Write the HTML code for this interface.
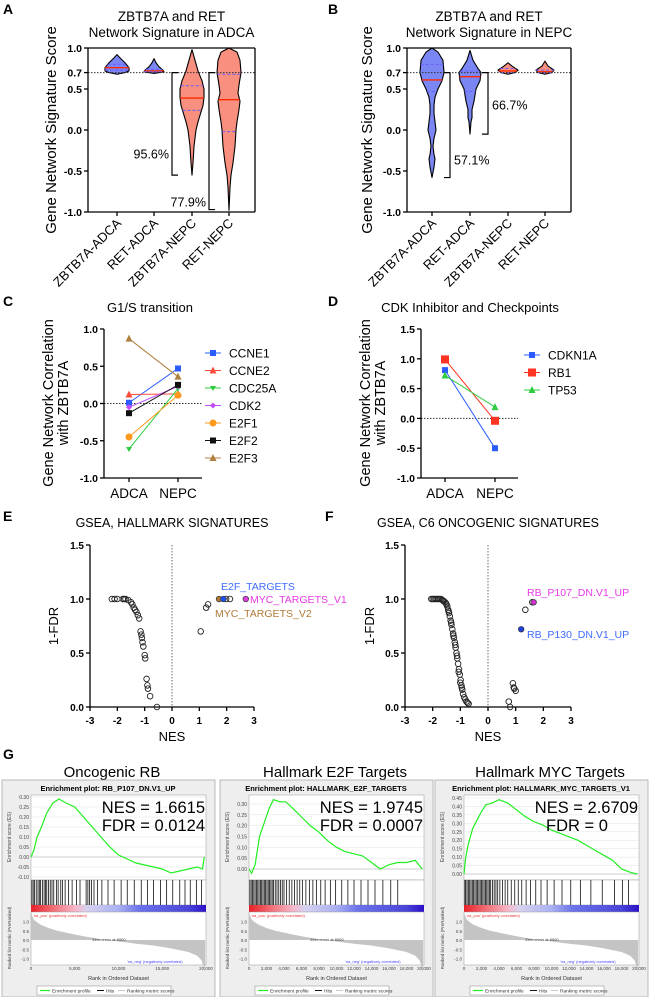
<!DOCTYPE html>
<html><head><meta charset="utf-8"><style>
html,body{margin:0;padding:0;background:#fff;}
svg{display:block;font-family:"Liberation Sans",Arial,sans-serif;}
</style></head><body>
<svg id="fig" width="649" height="997" viewBox="0 0 649 997" xmlns="http://www.w3.org/2000/svg"></svg>
<script>
// ---------- Panel A/B violin data: [value, half-width px] ----------
const violinCatsA = ["ZBTB7A-ADCA","RET-ADCA","ZBTB7A-NEPC","RET-NEPC"];
const violinA1 = [[0.92,0],[0.88,3],[0.82,8],[0.76,12],[0.72,12],[0.70,8],[0.68,0]];
const violinA2 = [[0.87,0],[0.82,2],[0.77,5],[0.73,9],[0.71,10],[0.69,0]];
const violinA3 = [[0.98,0],[0.85,3],[0.72,6],[0.6,10],[0.5,12],[0.4,12],[0.3,11],[0.22,9],[0.1,6],[0.0,4],[-0.1,3],[-0.2,2],[-0.4,1],[-0.55,0]];
const violinA4 = [[1.0,0],[0.95,8],[0.85,11],[0.7,12],[0.55,10],[0.45,9],[0.35,11],[0.25,10],[0.1,8],[0.0,7],[-0.2,6],[-0.4,4],[-0.55,2],[-0.7,1],[-0.98,0]];
const violinStatsA = [[0.76,0.80,0.73],[0.72,0.74,0.71],[0.39,0.54,0.24],[0.37,0.68,-0.02]];
const violinB1 = [[1.0,0],[0.95,6],[0.85,11],[0.7,12],[0.6,10],[0.5,6],[0.4,3],[0.3,2],[0.2,2],[0.1,3],[0.0,4],[-0.1,2],[-0.2,1],[-0.3,2],[-0.35,3],[-0.45,2],[-0.58,0]];
const violinB2 = [[0.97,0],[0.85,3],[0.75,8],[0.7,11],[0.6,10],[0.5,6],[0.35,4],[0.25,2],[0.15,2],[0.1,1],[-0.05,0]];
const violinB3 = [[0.82,0],[0.78,4],[0.73,10],[0.70,7],[0.68,0]];
const violinB4 = [[0.84,0],[0.78,3],[0.73,9],[0.70,7],[0.68,0]];
const violinStatsB = [[0.61,0.80,0.47],[0.65,0.72,0.47],[0.72,0.75,0.70],[0.71,0.73,0.70]];
const violinTicks = [1.0,0.7,0.5,0.0,-0.5,-1.0];
const bracketsA = [[2,0.7,-0.55,"95.6%"],[3,0.7,-0.97,"77.9%"]];
const bracketsB = [[0,0.7,-0.58,"57.1%"],[1,0.7,-0.05,"66.7%"]];

// ---------- Panel C/D ----------
const groupsCD = ["ADCA","NEPC"];
const seriesC = ["CCNE1","CCNE2","CDC25A","CDK2","E2F1","E2F2","E2F3"];
const valuesC = [[0.01,0.47],[0.12,0.13],[-0.61,0.20],[-0.05,0.23],[-0.45,0.11],[-0.13,0.25],[0.87,0.36]];
const ticksC = [1.0,0.5,0.0,-0.5,-1.0];
const seriesD = ["CDKN1A","RB1","TP53"];
const valuesD = [[0.81,-0.50],[0.99,-0.04],[0.72,0.19]];
const ticksD = [1.5,1.0,0.5,0.0,-0.5,-1.0];

// ---------- Panel E/F (NES, 1-FDR) ----------
const nesE = [-2.2,-2.1,-2.0,-1.8,-1.75,-1.7,-1.6,-1.5,-1.45,-1.4,-1.35,-1.3,-1.25,-1.2,-1.15,-1.12,-1.1,-1.08,-1.05,-1.0,-0.98,-0.93,-0.9,-0.88,-0.8,-0.55,1.05,1.25,1.32,1.98,2.12];
const fdrE = [1,1,1,1,1,1,0.99,0.97,0.95,0.92,0.9,0.88,0.85,0.82,0.7,0.67,0.64,0.6,0.56,0.48,0.45,0.26,0.2,0.17,0.1,0,0.7,0.92,0.95,1,1];
const hiNesE = [1.72,1.88,2.7];
const hiFdrE = [1,1,1];
const nesF = [-2.05,-2.0,-1.95,-1.9,-1.85,-1.8,-1.75,-1.7,-1.65,-1.6,-1.55,-1.5,-1.47,-1.44,-1.41,-1.38,-1.35,-1.32,-1.29,-1.26,-1.23,-1.2,-1.17,-1.14,-1.11,-1.08,-1.05,-1.02,-0.99,-0.96,-0.93,-0.9,-0.86,-0.82,-0.78,-0.74,-0.7,-1.62,-1.52,-1.42,-1.33,-1.25,-1.18,-1.12,-1.06,-1.0,-0.95,0.75,0.8,0.9,0.93,0.95,1.0,1.35,1.6];
const fdrF = [1,1,1,1,1,1,1,1,0.99,0.98,0.97,0.95,0.93,0.9,0.87,0.84,0.8,0.76,0.72,0.68,0.64,0.6,0.55,0.5,0.45,0.4,0.35,0.3,0.25,0.2,0.16,0.12,0.09,0.07,0.05,0.04,0.03,0.985,0.96,0.885,0.78,0.66,0.575,0.475,0.325,0.225,0.18,0.05,0,0.22,0.18,0.17,0.15,0.9,0.97];
const hiNesF = [1.65,1.2];
const hiFdrF = [0.97,0.72];
const ticksNES = [-3,-2,-1,0,1,2,3];
const ticksFDR = [1.5,1.0,0.5,0.0];

// ---------- Panel G (GSEA) ----------
const gseaTitles = ["Oncogenic RB","Hallmark E2F Targets","Hallmark MYC Targets"];
const gseaPlotNames = ["RB_P107_DN.V1_UP","HALLMARK_E2F_TARGETS","HALLMARK_MYC_TARGETS_V1"];
const gseaNES = ["1.6615","1.9745","2.6709"];
const gseaFDR = ["0.0124","0.0007","0"];
const esRank1 = [0,300,700,1200,1800,2500,3200,4000,5000,6000,7000,8000,9000,10000,11000,12000,13000,14000,15000,16000,17000,18000,19000,19600,19800];
const esVal1 = [0,0.03,0.1,0.15,0.22,0.27,0.29,0.27,0.25,0.2,0.15,0.1,0.05,0.01,-0.01,-0.03,-0.04,-0.05,-0.06,-0.08,-0.07,-0.06,-0.05,-0.06,0.0];
const esRank2 = [0,300,700,1200,1800,2300,2800,3500,4200,5000,6000,7000,8000,9000,10000,11000,12000,13000,14000,15000,16000,17000,18000,19000,19800];
const esVal2 = [0,-0.02,0.02,0.15,0.22,0.28,0.32,0.31,0.31,0.28,0.24,0.2,0.17,0.13,0.1,0.08,0.07,0.06,0.03,0.0,0.02,0.03,0.03,0.04,0.0];
const esRank3 = [0,200,500,1000,1500,2000,2500,3200,4000,5000,6000,7000,8000,9000,10000,11000,12000,13000,14000,15000,16000,17000,18000,19000,19800];
const esVal3 = [0,0.1,0.18,0.27,0.32,0.37,0.41,0.42,0.44,0.42,0.38,0.34,0.31,0.29,0.26,0.24,0.22,0.2,0.17,0.14,0.11,0.08,0.03,0.01,0];
const hits1 = [100,250,400,600,800,950,1100,1300,1500,1650,1800,2000,2200,2400,2600,2900,3100,3400,3600,3900,4300,4700,5200,5600,6300,6500,6700,6900,7200,7600,8100,8800,9500,10300,11000,11800,12600,13300,14000,14800,15500,16200,17000,17600,18200,18900,19500];
const hits2 = [100,250,400,550,700,850,1000,1150,1300,1450,1600,1750,1900,2050,2200,2350,2500,2650,2800,3000,3200,3400,3600,3800,4000,4300,4600,4900,5200,5500,5800,6100,6500,6900,7300,7700,8200,8700,9300,9900,10600,11300,12000,12800,13600,14400,15300,16200,17000];
const hits3 = [100,200,350,500,650,800,950,1100,1250,1400,1550,1700,1850,2000,2150,2300,2450,2600,2750,2900,3050,3250,3450,3650,3850,4100,4400,4700,5000,5400,5800,6200,6600,7100,7600,8200,8800,9500,10300,11200,12200,13300,14500,15800,17200,18100,18800];
const metricRank = [0,300,1000,2000,3000,4000,5000,6000,7000,8000,8900,10000,12000,14000,16000,18000,19000,19500,19900];
const metricVal = [1.5,1.1,0.85,0.65,0.5,0.4,0.3,0.2,0.12,0.05,0,-0.08,-0.2,-0.3,-0.45,-0.65,-0.85,-1.1,-1.7];

// ---------- helpers ----------
const NS="http://www.w3.org/2000/svg";
const svg=document.getElementById('fig');
function mk(tag,attrs,parent){const e=document.createElementNS(NS,tag);for(const k in attrs)e.setAttribute(k,attrs[k]);(parent||svg).appendChild(e);return e;}
function txt(s,x,y,attrs,parent){const e=mk('text',Object.assign({x:x,y:y},attrs||{}),parent);e.textContent=s;return e;}
function lin(d0,d1,r0,r1){return v=>r0+(v-d0)*(r1-r0)/(d1-d0);}
function line(x1,y1,x2,y2,st,parent){return mk('line',Object.assign({x1:x1,y1:y1,x2:x2,y2:y2,stroke:'#000','stroke-width':1.3},st||{}),parent);}
function label(s,x,y){const t=txt(s,x,y,{'font-size':14,'font-weight':'bold'});}

// ---------- Violin panels ----------
function violinPanel(id,ax,cx,title2,violins,stats,brackets,fills){
  const g=mk('g',{});
  
  
  const y=lin(1,-1,48,212);
  const ttl=txt("ZBTB7A and RET",(ax.l+ax.r)/2,21,{'font-size':13.5,'text-anchor':'middle'},g);
  
  txt(title2,(ax.l+ax.r)/2,37,{'font-size':13.5,'text-anchor':'middle'},g);
  const yl=txt("Gene Network Signature Score",0,0,{'font-size':15,'text-anchor':'middle',transform:`translate(${ax.yl},130) rotate(-90)`},g);
  
  violins.forEach((pts,i)=>{
    const c=cx[i];
    let d='';
    pts.forEach((p,j)=>{d+=(j?'L':'M')+(c+p[1])+','+y(p[0]);});
    for(let j=pts.length-1;j>=0;j--){d+='L'+(c-pts[j][1])+','+y(pts[j][0]);}
    const p=mk('path',{d:d+'Z',fill:fills[i],stroke:'#000','stroke-width':1.1,'stroke-linejoin':'round'},g);
    
    
    const hw=v=>{for(let j=0;j<pts.length-1;j++){const a=pts[j],b=pts[j+1];if(v<=a[0]&&v>=b[0]){return a[1]+(b[1]-a[1])*(a[0]-v)/(a[0]-b[0]);}}return 0;};
    const s=stats[i];
    line(c-hw(s[0]),y(s[0]),c+hw(s[0]),y(s[0]),{stroke:'#ff2a00','stroke-width':1.4},g);
    [s[1],s[2]].forEach(q=>line(c-hw(q),y(q),c+hw(q),y(q),{stroke:'#6a5cff','stroke-width':1,'stroke-dasharray':'3,2'},g));
  });
  line(ax.l,y(0.7),ax.r,y(0.7),{'stroke-width':1,'stroke-dasharray':'1.5,1.5',stroke:'#333'},g);
  line(ax.l,48,ax.l,212,{},g);line(ax.l,212,ax.r,212,{},g);line(ax.r,48,ax.r,212,{},g);line(ax.l,48,ax.r,48,{},g);
  violinTicks.forEach(t=>{line(ax.l-4,y(t),ax.l,y(t),{},g);txt(t.toFixed(1),ax.l-6,y(t)+4,{'font-size':10.5,'font-weight':'bold','text-anchor':'end'},g);});
  violinCatsA.forEach((n,i)=>{line(cx[i],212,cx[i],216,{},g);
    const t=txt(n,0,0,{'font-size':13,'text-anchor':'end',transform:`translate(${cx[i]+5},${224}) rotate(-45)`},g);
    });
  brackets.forEach(b=>{
    const bx = id==='a' ? cx[b[0]]-20 : cx[b[0]]+18;
    const p=mk('path',{d:`M${bx-6},${y(b[1])}H${bx}V${y(b[2])}H${bx-6}`.replace(/H\$\{bx-6\}/g,''),fill:'none',stroke:'#000','stroke-width':1.2},g);
    const dd = id==='a' ? `M${bx+6},${y(b[1])}H${bx}V${y(b[2])}H${bx+6}` : `M${bx-6},${y(b[1])}H${bx}V${y(b[2])}H${bx-6}`;
    p.setAttribute('d',dd);
    
    let ly,lx,anchor;
    if(id==='a'){ly = b[0]===2? y(-0.3)+4 : y(-0.93); lx=bx-3; anchor='end';}
    else {ly = b[0]===0? y(-0.37)+4 : y(0.3)+4; lx=bx+4; anchor='start';}
    txt(b[3],lx,ly,{'font-size':12.5,'text-anchor':anchor},g);
  });
}
label("A",3,14);label("B",328,14);
violinPanel('a',{l:88,r:255,yl:56},[117,154,192,229],"Network Signature in ADCA",[violinA1,violinA2,violinA3,violinA4],violinStatsA,bracketsA,['#7b86f5','#7b86f5','#f98f7f','#f98f7f']);
violinPanel('b',{l:407,r:571,yl:372},[432,470,508,545],"Network Signature in NEPC",[violinB1,violinB2,violinB3,violinB4],violinStatsB,bracketsB,['#7b86f5','#7b86f5','#f98f7f','#f98f7f']);

// ---------- Line panels C/D ----------
const colorsC=['#2a5cff','#ff4d3d','#2ecc40','#c04dff','#ff9a1f','#111111','#b08040'];
const shapesC=['sq','tri','tridn','dia','circ','sq','tri'];
const colorsD=['#2a5cff','#ff3322','#2ecc40'];
const shapesD=['sq','sqbig','tri'];
function marker(shape,x,y,c,g,sz){
  sz=sz||3;
  if(shape==='sq')return mk('rect',{x:x-sz,y:y-sz,width:2*sz,height:2*sz,fill:c},g);
  if(shape==='sqbig')return mk('rect',{x:x-sz-1,y:y-sz-1,width:2*sz+2,height:2*sz+2,fill:c},g);
  if(shape==='tri')return mk('polygon',{points:`${x},${y-sz-1} ${x-sz-0.5},${y+sz} ${x+sz+0.5},${y+sz}`,fill:c},g);
  if(shape==='tridn')return mk('polygon',{points:`${x},${y+sz} ${x-sz},${y-sz+1} ${x+sz},${y-sz+1}`,fill:c},g);
  if(shape==='dia')return mk('polygon',{points:`${x},${y-sz} ${x+sz},${y} ${x},${y+sz} ${x-sz},${y}`,fill:c},g);
  return mk('circle',{cx:x,cy:y,r:sz+0.5,fill:c},g);
}
function linePanel(id,title,ax,gx,ymin,ymax,ticks,series,values,colors,shapes,leg){
  const g=mk('g',{});
  
  
  const y=lin(ymin,ymax,478,329);
  const t=txt(title,ax.tc,312,{'font-size':13,'text-anchor':'middle'},g);
  
  const y1=txt("Gene Network Correlation",0,0,{'font-size':14.5,'text-anchor':'middle',transform:`translate(${ax.yl},403) rotate(-90)`},g);
  
  txt("with ZBTB7A",0,0,{'font-size':14.5,'text-anchor':'middle',transform:`translate(${ax.yl+15},403) rotate(-90)`},g);
  line(ax.l,y(0),ax.r,y(0),{'stroke-width':1,'stroke-dasharray':'1.5,1.5',stroke:'#333'},g);
  line(ax.l,329,ax.l,478,{},g);line(ax.l,478,ax.r,478,{},g);
  ticks.forEach(v=>{line(ax.l-4,y(v),ax.l,y(v),{},g);txt(v.toFixed(1),ax.l-6,y(v)+4,{'font-size':10.5,'font-weight':'bold','text-anchor':'end'},g);});
  groupsCD.forEach((n,i)=>{line(gx[i],478,gx[i],482,{},g);txt(n,gx[i],498,{'font-size':13.5,'text-anchor':'middle'},g);});
  series.forEach((s,i)=>{
    const sg=mk('g',{},g);
    
    
    line(gx[0],y(values[i][0]),gx[1],y(values[i][1]),{stroke:colors[i],'stroke-width':1},sg);
    values[i].forEach((v,j)=>marker(shapes[i],gx[j],y(v),colors[i],sg));
    const ly=leg.y+i*leg.dy;
    const lg=mk('g',{},g);
    
    
    line(leg.x-8,ly,leg.x+8,ly,{stroke:colors[i],'stroke-width':1},lg);
    marker(shapes[i],leg.x,ly,colors[i],lg);
    txt(s,leg.x+16,ly+4.5,{'font-size':12},lg);
  });
}
label("C",3,306);label("D",328,306);
linePanel('c',"G1/S transition",{l:104,r:202,tc:150,yl:53},[129,178],-1,1,ticksC,seriesC,valuesC,colorsC,shapesC,{x:213,y:353,dy:17.5});
linePanel('d',"CDK Inhibitor and Checkpoints",{l:421,r:518,tc:470,yl:370},[445,495],-1,1.5,ticksD,seriesD,valuesD,colorsD,shapesD,{x:532,y:355,dy:17.5});

// ---------- Scatter panels E/F ----------
function scatterPanel(id,title,ax,nes,fdr,hiN,hiF,hiC,labels){
  const g=mk('g',{});
  
  
  const x=lin(-3,3,ax.l,ax.r), y=lin(0,1,707,599);
  const t=txt(title,x(0),527,{'font-size':12.5,'text-anchor':'middle'},g);
  
  line(x(0),545,x(0),707,{'stroke-width':0.8,'stroke-dasharray':'1.5,1.5',stroke:'#444'},g);
  line(ax.l,545,ax.l,707,{},g);line(ax.l,707,ax.r,707,{},g);
  ticksFDR.forEach(v=>{line(ax.l-4,y(v),ax.l,y(v),{},g);txt(v.toFixed(1),ax.l-6,y(v)+4,{'font-size':10,'font-weight':'bold','text-anchor':'end'},g);});
  ticksNES.forEach(v=>{line(x(v),707,x(v),711,{},g);txt(String(v),x(v),724,{'font-size':10,'font-weight':'bold','text-anchor':'middle'},g);});
  const xl=txt("NES",x(0),741,{'font-size':13,'text-anchor':'middle'},g);
  
  const yl=txt("1-FDR",0,0,{'font-size':13,'text-anchor':'middle',transform:`translate(${ax.yl},626) rotate(-90)`},g);
  
  nes.forEach((v,i)=>{const c=mk('circle',{cx:x(v),cy:y(fdr[i]),r:2.8,fill:'none',stroke:'#222','stroke-width':0.9},g);
    });
  hiN.forEach((v,i)=>{const c=mk('circle',{cx:x(v),cy:y(hiF[i]),r:2.8,fill:hiC[i],stroke:'#333','stroke-width':0.7},g);
    });
  labels.forEach(l=>{const tl=txt(l[0],l[1],l[2],{'font-size':10.5,fill:l[3]},g);});
}
label("E",3,521);label("F",325,521);
scatterPanel('e',"GSEA, HALLMARK SIGNATURES",{l:90,r:254,yl:58},nesE,fdrE,hiNesE,hiFdrE,['#b07a3a','#1f4fff','#e040e0'],
  [["E2F_TARGETS",221,590,'#3f6bff'],["MYC_TARGETS_V1",250,603,'#e83be8'],["MYC_TARGETS_V2",215,617,'#b07a3a']]);
scatterPanel('f',"GSEA, C6 ONCOGENIC SIGNATURES",{l:405,r:571,yl:374},nesF,fdrF,hiNesF,hiFdrF,['#cc33cc','#1f3fdd'],
  [["RB_P107_DN.V1_UP",527,596,'#e83be8'],["RB_P130_DN.V1_UP",527,638,'#3f6bff']]);

// ---------- GSEA panels ----------
label("G",3,759);
const defs=mk('defs',{});
const grad=mk('linearGradient',{id:'rankgrad',x1:0,x2:1,y1:0,y2:0},defs);
[[0,'#e8202a'],[0.12,'#f06a70'],[0.25,'#f7b6c8'],[0.32,'#d6d2f0'],[0.5,'#aab0f2'],[0.62,'#6b74ea'],[0.9,'#4a44d8'],[1,'#2a10c8']].forEach(s=>mk('stop',{offset:s[0],'stop-color':s[1]},grad));
const esRanks=[esRank1,esRank2,esRank3], esVals=[esVal1,esVal2,esVal3], hitsAll=[hits1,hits2,hits3];
const esDom=[[-0.1,0.3,877,797,[0.30,0.25,0.20,0.15,0.10,0.05,0.00,-0.05,-0.10]],[0,0.3,869,804,[0.30,0.25,0.20,0.15,0.10,0.05,0.00]],[0,0.45,874,798,[0.45,0.40,0.35,0.30,0.25,0.20,0.15,0.10,0.05,0.00]]];
const boxX=[2,220,435], titleX=[112,335,550];
const xtickLabs=[["0","5,000","10,000","15,000","20,000"],["0","2,000","4,000","6,000","8,000","10,000","12,000","14,000","16,000","18,000","20,000"],["0","2,000","4,000","6,000","8,000","10,000","12,000","14,000","16,000","18,000","20,000"]];
const xtickVals=[[0,5000,10000,15000,20000],[0,2000,4000,6000,8000,10000,12000,14000,16000,18000,20000],[0,2000,4000,6000,8000,10000,12000,14000,16000,18000,20000]];
for(let k=0;k<3;k++){
  const g=mk('g',{});
  
  
  const ox=boxX[k];
  const tt=txt(gseaTitles[k],titleX[k],777,{'font-size':15,'text-anchor':'middle'},g);
  
  mk('rect',{x:ox,y:780,width:213,height:217,fill:'#eeeeee',stroke:'#aaa','stroke-width':0.8},g);
  const L=ox+29,R=ox+204;
  const x=lin(0,20000,L,R);
  txt("Enrichment plot: "+gseaPlotNames[k],ox+106,791,{'font-size':7.5,'font-weight':'bold','text-anchor':'middle'},g);
  mk('rect',{x:L,y:795,width:R-L,height:85,fill:'#fff',stroke:'#999','stroke-width':0.5},g);
  const d=esDom[k]; const y=lin(d[0],d[1],d[2],d[3]);
  d[4].forEach(v=>{line(L,y(v),R,y(v),{stroke:'#e2e2e2','stroke-width':0.5},g);txt(v.toFixed(2),L-2,y(v)+2,{'font-size':5,'text-anchor':'end',fill:'#444'},g);});
  line(L,y(0),R,y(0),{stroke:'#aaa','stroke-width':0.6},g);
  txt("Enrichment score (ES)",0,0,{'font-size':5,'text-anchor':'middle',fill:'#444',transform:`translate(${ox+9},837) rotate(-90)`},g);
  let pd='';esRanks[k].forEach((r,i)=>{pd+=(i?'L':'M')+x(r)+','+y(esVals[k][i]);});
  const es=mk('path',{d:pd,fill:'none',stroke:'#22ee22','stroke-width':1.2},g);
  
  mk('rect',{x:L,y:880,width:R-L,height:25,fill:'#fff',stroke:'#999','stroke-width':0.5},g);
  hitsAll[k].forEach(h=>line(x(h),880,x(h),905,{'stroke-width':0.8,stroke:'#111'},g));
  mk('rect',{x:L,y:905,width:R-L,height:7,fill:'url(#rankgrad)'},g);
  mk('rect',{x:L,y:912,width:R-L,height:53,fill:'#fff',stroke:'#999','stroke-width':0.5},g);
  const ym=lin(0,1,940,921.5);
  let md='M'+x(0)+','+ym(0);metricRank.forEach((r,i)=>{md+='L'+x(r)+','+ym(metricVal[i]);});md+='L'+x(19900)+','+ym(0)+'Z';
  const ma=mk('path',{d:md,fill:'#c4c4c4',stroke:'none'},g);
  
  [1.0,0.5,0.0,-0.5,-1.0].forEach(v=>txt(v.toFixed(1),L-2,ym(v)+2,{'font-size':4.5,'text-anchor':'end',fill:'#444'},g));
  txt("'na_pos' (positively correlated)",L+2,917,{'font-size':4,fill:'#e33'},g);
  txt("'na_neg' (negatively correlated)",L+96,963,{'font-size':4,fill:'#44f'},g);
  txt("Zero cross at 8900",x(8900),941,{'font-size':4,'text-anchor':'middle',fill:'#333'},g);
  txt("Ranked list metric (PreRanked)",0,0,{'font-size':4.5,'text-anchor':'middle',fill:'#444',transform:`translate(${ox+9},938) rotate(-90)`},g);
  xtickVals[k].forEach((v,i)=>txt(xtickLabs[k][i],x(v),970,{'font-size':4.5,'text-anchor':'middle',fill:'#444'},g));
  txt("Rank in Ordered Dataset",(L+R)/2,980,{'font-size':5.5,'text-anchor':'middle',fill:'#333'},g);
  mk('rect',{x:ox+35,y:986,width:134,height:9,fill:'#fff',stroke:'#888','stroke-width':0.5},g);
  line(ox+38,990.5,ox+48,990.5,{stroke:'#22ee22','stroke-width':1.2},g);
  txt("Enrichment profile",ox+50,992.5,{'font-size':4.8,fill:'#333'},g);
  line(ox+95,990.5,ox+102,990.5,{stroke:'#111','stroke-width':1},g);
  txt("Hits",ox+104,992.5,{'font-size':4.8,fill:'#333'},g);
  line(ox+116,990.5,ox+123,990.5,{stroke:'#ccc','stroke-width':1},g);
  txt("Ranking metric scores",ox+125,992.5,{'font-size':4.8,fill:'#333'},g);
  const n1=txt("NES = "+gseaNES[k],R-1,813,{'font-size':16.5,'text-anchor':'end'},g);
  
  const n2=txt("FDR = "+gseaFDR[k],k===2?ox+111:R-1,831,{'font-size':16.5,'text-anchor':k===2?'start':'end'},g);
  
}
</script>
</body></html>
